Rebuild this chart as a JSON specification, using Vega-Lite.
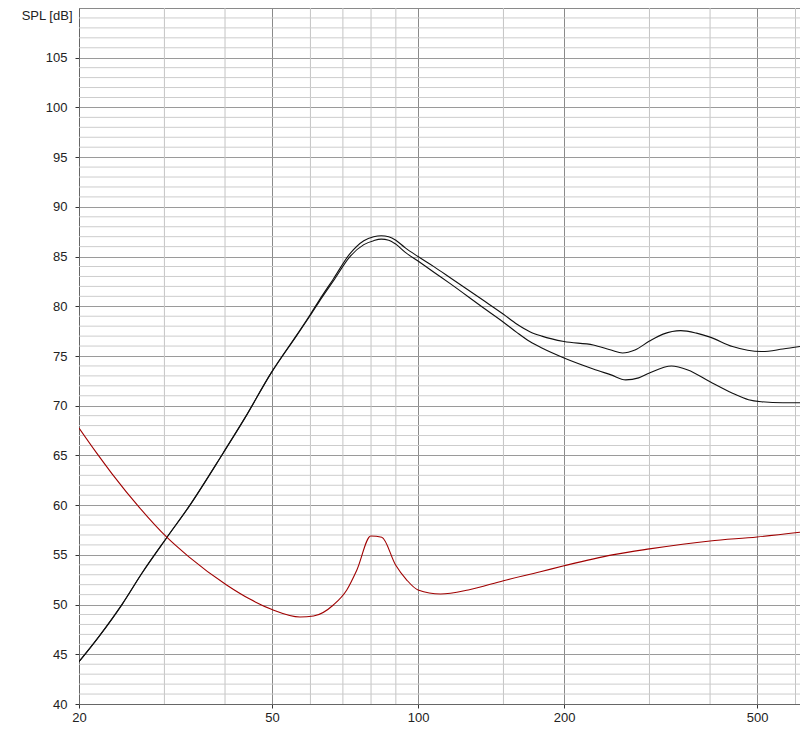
{
  "$schema": "https://vega.github.io/schema/vega-lite/v6.json",
  "autosize": {"type": "none"},
  "width": 721,
  "height": 696,
  "padding": {"left": 79, "top": 8, "right": 0, "bottom": 30},
  "background": "white",
  "datasets": {
    "curves": [
      {"series": "upper", "f": 20, "db": 44.25},
      {"series": "upper", "f": 22, "db": 46.8},
      {"series": "upper", "f": 24.6, "db": 50.1},
      {"series": "upper", "f": 27, "db": 53.2},
      {"series": "upper", "f": 30.3, "db": 56.7},
      {"series": "upper", "f": 33.7, "db": 59.85},
      {"series": "upper", "f": 39.6, "db": 65.2},
      {"series": "upper", "f": 44, "db": 68.8},
      {"series": "upper", "f": 49.8, "db": 73.3},
      {"series": "upper", "f": 56.2, "db": 77.1},
      {"series": "upper", "f": 60, "db": 79.2},
      {"series": "upper", "f": 63.5, "db": 81.1},
      {"series": "upper", "f": 66.9, "db": 82.75},
      {"series": "upper", "f": 72.4, "db": 85.3},
      {"series": "upper", "f": 77.3, "db": 86.6},
      {"series": "upper", "f": 81, "db": 87.0},
      {"series": "upper", "f": 84, "db": 87.1},
      {"series": "upper", "f": 87, "db": 87.0},
      {"series": "upper", "f": 90, "db": 86.65},
      {"series": "upper", "f": 94, "db": 85.9},
      {"series": "upper", "f": 100, "db": 85.0},
      {"series": "upper", "f": 108, "db": 83.96},
      {"series": "upper", "f": 116.3, "db": 82.9},
      {"series": "upper", "f": 136.3, "db": 80.6},
      {"series": "upper", "f": 150, "db": 79.2},
      {"series": "upper", "f": 160, "db": 78.2},
      {"series": "upper", "f": 170, "db": 77.45},
      {"series": "upper", "f": 180, "db": 77.0},
      {"series": "upper", "f": 200, "db": 76.45},
      {"series": "upper", "f": 229.7, "db": 76.1},
      {"series": "upper", "f": 250, "db": 75.6},
      {"series": "upper", "f": 264, "db": 75.3},
      {"series": "upper", "f": 280, "db": 75.6},
      {"series": "upper", "f": 300, "db": 76.5},
      {"series": "upper", "f": 320, "db": 77.2},
      {"series": "upper", "f": 348, "db": 77.55},
      {"series": "upper", "f": 375, "db": 77.3},
      {"series": "upper", "f": 400, "db": 76.9},
      {"series": "upper", "f": 445, "db": 75.95},
      {"series": "upper", "f": 510, "db": 75.45},
      {"series": "upper", "f": 565, "db": 75.7},
      {"series": "upper", "f": 613, "db": 75.95},
      {"series": "lower", "f": 20, "db": 44.25},
      {"series": "lower", "f": 22, "db": 46.8},
      {"series": "lower", "f": 24.6, "db": 50.1},
      {"series": "lower", "f": 27, "db": 53.2},
      {"series": "lower", "f": 30.3, "db": 56.7},
      {"series": "lower", "f": 33.7, "db": 59.85},
      {"series": "lower", "f": 39.6, "db": 65.2},
      {"series": "lower", "f": 44, "db": 68.8},
      {"series": "lower", "f": 49.8, "db": 73.3},
      {"series": "lower", "f": 56.2, "db": 77.05},
      {"series": "lower", "f": 60, "db": 79.1},
      {"series": "lower", "f": 63.5, "db": 80.95},
      {"series": "lower", "f": 66.9, "db": 82.55},
      {"series": "lower", "f": 72.4, "db": 85.0},
      {"series": "lower", "f": 77.3, "db": 86.2},
      {"series": "lower", "f": 81, "db": 86.6},
      {"series": "lower", "f": 84, "db": 86.75},
      {"series": "lower", "f": 87, "db": 86.65},
      {"series": "lower", "f": 90, "db": 86.25},
      {"series": "lower", "f": 94, "db": 85.45},
      {"series": "lower", "f": 100, "db": 84.55},
      {"series": "lower", "f": 108, "db": 83.4},
      {"series": "lower", "f": 116.3, "db": 82.3},
      {"series": "lower", "f": 136.3, "db": 79.85},
      {"series": "lower", "f": 150, "db": 78.4},
      {"series": "lower", "f": 160, "db": 77.35},
      {"series": "lower", "f": 170, "db": 76.45},
      {"series": "lower", "f": 180, "db": 75.8},
      {"series": "lower", "f": 200, "db": 74.8},
      {"series": "lower", "f": 229.7, "db": 73.7},
      {"series": "lower", "f": 250, "db": 73.1},
      {"series": "lower", "f": 268, "db": 72.6},
      {"series": "lower", "f": 285, "db": 72.8},
      {"series": "lower", "f": 300, "db": 73.3},
      {"series": "lower", "f": 333, "db": 74.0},
      {"series": "lower", "f": 360, "db": 73.6},
      {"series": "lower", "f": 400, "db": 72.4},
      {"series": "lower", "f": 445, "db": 71.25},
      {"series": "lower", "f": 480, "db": 70.6},
      {"series": "lower", "f": 510, "db": 70.4},
      {"series": "lower", "f": 565, "db": 70.3},
      {"series": "lower", "f": 613, "db": 70.3},
      {"series": "red", "f": 20, "db": 67.75},
      {"series": "red", "f": 21.7, "db": 65.3},
      {"series": "red", "f": 23.4, "db": 63.15},
      {"series": "red", "f": 26.6, "db": 59.8},
      {"series": "red", "f": 30.3, "db": 56.8},
      {"series": "red", "f": 33.7, "db": 54.8},
      {"series": "red", "f": 40.3, "db": 51.97},
      {"series": "red", "f": 45, "db": 50.55},
      {"series": "red", "f": 50, "db": 49.5},
      {"series": "red", "f": 57.1, "db": 48.75},
      {"series": "red", "f": 60.9, "db": 48.85},
      {"series": "red", "f": 66.9, "db": 49.96},
      {"series": "red", "f": 71.3, "db": 51.47},
      {"series": "red", "f": 74.8, "db": 53.48},
      {"series": "red", "f": 79.9, "db": 56.9},
      {"series": "red", "f": 84.2, "db": 56.77},
      {"series": "red", "f": 89.9, "db": 53.98},
      {"series": "red", "f": 94.8, "db": 52.47},
      {"series": "red", "f": 100, "db": 51.47},
      {"series": "red", "f": 111.3, "db": 51.07},
      {"series": "red", "f": 126.9, "db": 51.47},
      {"series": "red", "f": 150, "db": 52.4},
      {"series": "red", "f": 178.7, "db": 53.3},
      {"series": "red", "f": 200, "db": 53.9},
      {"series": "red", "f": 251.4, "db": 55.0},
      {"series": "red", "f": 300, "db": 55.6},
      {"series": "red", "f": 400, "db": 56.4},
      {"series": "red", "f": 500, "db": 56.8},
      {"series": "red", "f": 613, "db": 57.27}
    ],
    "xminor": [
      {"f": 30}, {"f": 40}, {"f": 60}, {"f": 70}, {"f": 80}, {"f": 90},
      {"f": 150}, {"f": 300}, {"f": 400}, {"f": 600}
    ],
    "yminor": [
      {"db": 41}, {"db": 42}, {"db": 43}, {"db": 44},
      {"db": 46}, {"db": 47}, {"db": 48}, {"db": 49},
      {"db": 51}, {"db": 52}, {"db": 53}, {"db": 54},
      {"db": 56}, {"db": 57}, {"db": 58}, {"db": 59},
      {"db": 61}, {"db": 62}, {"db": 63}, {"db": 64},
      {"db": 66}, {"db": 67}, {"db": 68}, {"db": 69},
      {"db": 71}, {"db": 72}, {"db": 73}, {"db": 74},
      {"db": 76}, {"db": 77}, {"db": 78}, {"db": 79},
      {"db": 81}, {"db": 82}, {"db": 83}, {"db": 84},
      {"db": 86}, {"db": 87}, {"db": 88}, {"db": 89},
      {"db": 91}, {"db": 92}, {"db": 93}, {"db": 94},
      {"db": 96}, {"db": 97}, {"db": 98}, {"db": 99},
      {"db": 101}, {"db": 102}, {"db": 103}, {"db": 104},
      {"db": 106}, {"db": 107}, {"db": 108}, {"db": 109}
    ]
  },
  "layer": [
    {
      "data": {"name": "xminor"},
      "mark": {"type": "rule", "color": "#c4c4c4", "strokeWidth": 1},
      "encoding": {
        "x": {
          "field": "f",
          "type": "quantitative",
          "scale": {"type": "log", "domain": [20, 613], "nice": false},
          "axis": {
            "values": [20, 50, 100, 200, 500],
            "format": "d",
            "title": null,
            "grid": true,
            "gridColor": "#8a8a8a",
            "labelFlush": false
          }
        }
      }
    },
    {
      "data": {"name": "yminor"},
      "mark": {"type": "rule", "color": "#cdcdcd", "strokeWidth": 1},
      "encoding": {
        "y": {
          "field": "db",
          "type": "quantitative",
          "scale": {"domain": [40, 110], "nice": false, "zero": false},
          "axis": {
            "values": [40, 45, 50, 55, 60, 65, 70, 75, 80, 85, 90, 95, 100, 105],
            "title": "SPL [dB]",
            "titleAngle": 0,
            "titleAlign": "right",
            "titleBaseline": "middle",
            "titleX": -7,
            "titleY": 7,
            "grid": true,
            "gridColor": "#9a9a9a",
            "labelPadding": 8
          }
        }
      }
    },
    {
      "data": {"name": "curves"},
      "mark": {"type": "line", "strokeWidth": 1.1, "clip": true, "interpolate": "monotone"},
      "encoding": {
        "x": {
          "field": "f",
          "type": "quantitative",
          "scale": {"type": "log", "domain": [20, 613], "nice": false},
          "axis": {
            "values": [20, 50, 100, 200, 500],
            "format": "d",
            "title": null,
            "grid": true,
            "gridColor": "#8a8a8a",
            "labelFlush": false
          }
        },
        "y": {
          "field": "db",
          "type": "quantitative",
          "scale": {"domain": [40, 110], "nice": false, "zero": false},
          "axis": {
            "values": [40, 45, 50, 55, 60, 65, 70, 75, 80, 85, 90, 95, 100, 105],
            "title": "SPL [dB]",
            "titleAngle": 0,
            "titleAlign": "right",
            "titleBaseline": "middle",
            "titleX": -7,
            "titleY": 7,
            "grid": true,
            "gridColor": "#9a9a9a",
            "labelPadding": 8
          }
        },
        "detail": {"field": "series"},
        "color": {
          "field": "series",
          "type": "nominal",
          "scale": {"domain": ["upper", "lower", "red"], "range": ["#111111", "#111111", "#a00000"]},
          "legend": null
        }
      }
    }
  ],
  "config": {
    "view": {"stroke": "#8a8a8a", "strokeWidth": 1},
    "font": "Liberation Sans",
    "axis": {
      "labelFont": "Liberation Sans",
      "labelFontSize": 13,
      "labelColor": "#222222",
      "titleFont": "Liberation Sans",
      "titleFontSize": 13,
      "titleFontWeight": "normal",
      "titleColor": "#222222",
      "domainColor": "#666666",
      "tickColor": "#333333",
      "tickSize": 4,
      "labelPadding": 3
    }
  }
}
